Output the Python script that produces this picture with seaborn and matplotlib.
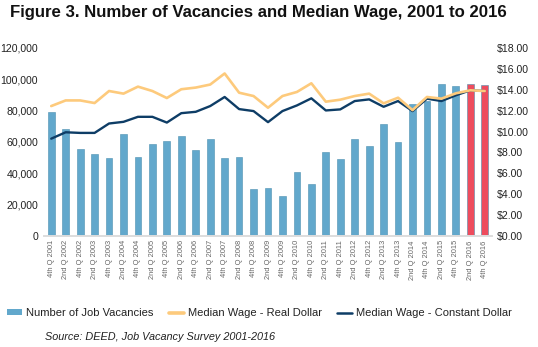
import matplotlib
matplotlib.use("Agg")
import matplotlib.pyplot as plt
import seaborn as sns
import pandas as pd
import numpy as np
from matplotlib.lines import Line2D
from matplotlib.patches import Patch
from matplotlib.ticker import FuncFormatter, MultipleLocator

# Survey periods (2nd and 4th quarter of each year)
periods = ["4th Q 2001"] + [f"{q} Q {y}" for y in range(2002, 2017) for q in ("2nd", "4th")]

# Number of job vacancies per period
vacancies = [79000, 68600, 55400, 52600, 49700, 65400, 50300, 58600, 60500, 64100,
             55200, 61600, 49700, 50700, 30000, 30500, 25400, 40700, 33000, 53700,
             49000, 61800, 57700, 71800, 59700, 84000, 86000, 97200, 95900, 96800,
             96500]

# Median wage, real dollars
wage_real = [12.44, 12.98, 12.98, 12.73, 13.88, 13.63, 14.30, 13.88, 13.21, 14.05,
             14.21, 14.50, 15.56, 13.72, 13.40, 12.28, 13.40, 13.79, 14.62, 12.86,
             13.05, 13.40, 13.63, 12.70, 13.24, 12.05, 13.31, 13.15, 13.66, 13.95,
             13.88]

# Median wage, constant dollars
wage_const = [9.32, 9.93, 9.87, 9.87, 10.77, 10.93, 11.41, 11.41, 10.86, 11.76,
              11.89, 12.44, 13.31, 12.15, 11.96, 10.90, 11.96, 12.50, 13.18, 12.02,
              12.12, 12.92, 13.08, 12.37, 12.92, 11.96, 13.15, 12.92, 13.47, 13.95,
              13.88]

BLUE = "#62a8cc"
RED = "#ee4c5d"
ORANGE = "#fdca7c"
NAVY = "#0e3d66"
TEXT = "#222222"

df = pd.DataFrame({"period": periods, "vacancies": vacancies,
                   "real": wage_real, "const": wage_const})
df["x"] = np.arange(len(df))
bar_colors = [RED if p.endswith("2016") else BLUE for p in periods]

sns.set_style("white")
plt.rcParams["font.family"] = ["Liberation Sans", "DejaVu Sans"]

fig = plt.figure(figsize=(5.38, 3.47), dpi=100)
ax = fig.add_axes([0.0818, 0.3199, 0.8327, 0.5418])

sns.barplot(data=df, x="period", y="vacancies", hue="period",
            palette=bar_colors, order=periods, hue_order=periods,
            width=0.47, legend=False, ax=ax, saturation=1,
            edgecolor="#4d8fb0", linewidth=0.4)

ax2 = ax.twinx()
sns.lineplot(x=df["x"], y=df["const"], color=NAVY, lw=1.7, ax=ax2)
sns.lineplot(x=df["x"], y=df["real"], color=ORANGE, lw=1.9, ax=ax2)

ax.set_xlim(-0.5, len(periods) - 0.5)
ax.set_ylim(0, 120000)
ax2.set_ylim(0, 18)
ax.yaxis.set_major_locator(MultipleLocator(20000))
ax.yaxis.set_major_formatter(FuncFormatter(lambda v, p: f"{int(v):,}"))
ax2.yaxis.set_major_locator(MultipleLocator(2))
ax2.yaxis.set_major_formatter(FuncFormatter(lambda v, p: f"${v:.2f}"))

for a in (ax, ax2):
    for s in a.spines.values():
        s.set_visible(False)
    a.set_xlabel("")
    a.set_ylabel("")
    a.grid(False)
ax.spines["bottom"].set_visible(True)
ax.spines["bottom"].set_color("#dddddd")
ax.spines["bottom"].set_linewidth(1.4)

ax.tick_params(axis="y", length=0, labelsize=7.6, labelcolor=TEXT, pad=4.2)
ax2.tick_params(axis="y", length=0, labelsize=7.6, labelcolor=TEXT, pad=3.6)
ax.tick_params(axis="x", length=0, labelsize=5.4, labelcolor="#666666", pad=3)
ax.set_xticks(range(len(periods)))
ax.set_xticklabels(periods, rotation=90)

fig.text(0.018, 0.965, "Figure 3. Number of Vacancies and Median Wage, 2001 to 2016",
         fontsize=12.1, fontweight="bold", color="#111111", va="center", ha="left")

handles = [Patch(facecolor=BLUE, edgecolor="none"),
           Line2D([], [], color=ORANGE, lw=2.6),
           Line2D([], [], color=NAVY, lw=1.8)]
labels = ["Number of Job Vacancies", "Median Wage - Real Dollar",
          "Median Wage - Constant Dollar"]
fig.legend(handles, labels, loc="center", bbox_to_anchor=(0.482, 0.098), ncol=3,
           frameon=False, fontsize=8, handlelength=1.35, handleheight=0.45,
           handletextpad=0.35, columnspacing=1.4, labelcolor=TEXT,
           borderpad=0, borderaxespad=0)

fig.text(0.083, 0.028, "Source: DEED, Job Vacancy Survey 2001-2016",
         fontsize=7.8, style="italic", color=TEXT, va="center", ha="left")

fig.savefig("out.png", dpi=100)
